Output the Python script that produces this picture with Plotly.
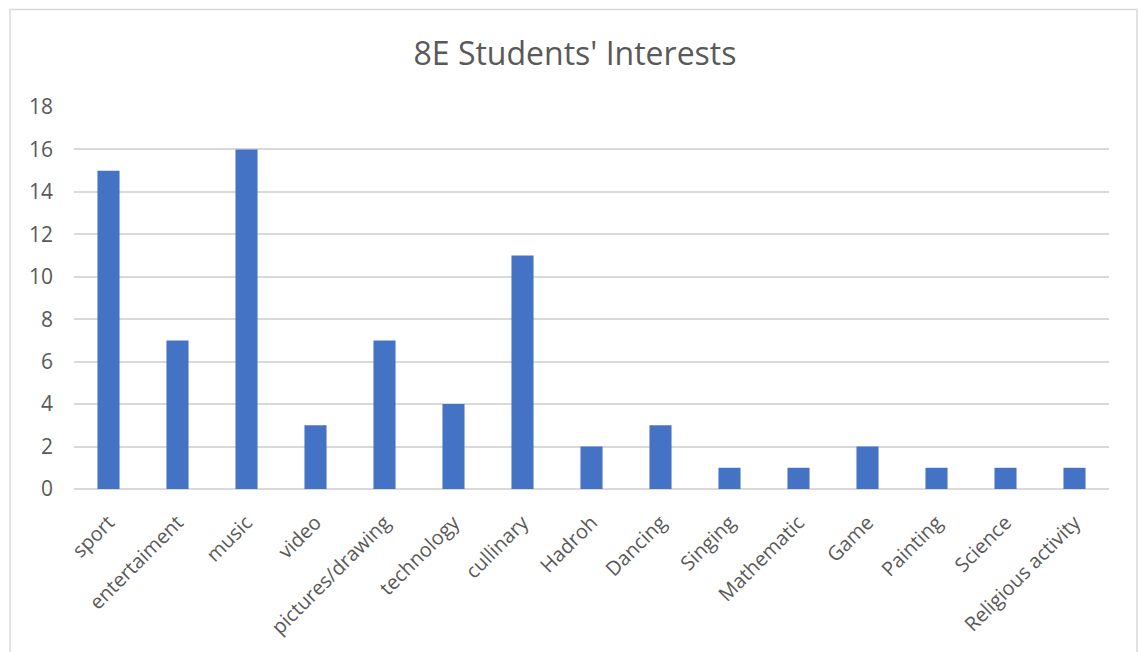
import plotly.graph_objects as go

categories = ["sport", "entertaiment", "music", "video", "pictures/drawing", "technology",
              "cullinary", "Hadroh", "Dancing", "Singing", "Mathematic", "Game",
              "Painting", "Science", "Religious activity"]
values = [15, 7, 16, 3, 7, 4, 11, 2, 3, 1, 1, 2, 1, 1, 1]
y_ticks = [0, 2, 4, 6, 8, 10, 12, 14, 16, 18]

W, H = 1139, 652
L, R, T, B = 73.5, 29.5, 107, 163
pw, ph = W - L - R, H - T - B

def px_x(x):
    return (x - L) / pw

def px_y(y):
    return (H - B - y) / ph

font_fam = "'Open Sans', sans-serif"
grey = "#595959"

fig = go.Figure(go.Bar(x=categories, y=values, marker_color="#4472C4",
                       marker_line_width=0, width=0.32))

fig.update_layout(
    width=W, height=H,
    margin=dict(l=L, r=R, t=T, b=B),
    paper_bgcolor="white", plot_bgcolor="white",
    title=dict(text="8E Students' Interests", x=px_x(575), xref="paper", xanchor="center",
               y=1 - 54 / H, yanchor="middle",
               font=dict(family=font_fam, size=32, color=grey)),
    font=dict(family=font_fam, color=grey),
    showlegend=False,
    xaxis=dict(tickangle=-45, tickfont=dict(size=20, color=grey), showgrid=False,
               showline=False, zeroline=False, ticks="", ticklabelstandoff=17),
    yaxis=dict(range=[0, 18], tickvals=y_ticks, tickfont=dict(size=21, color=grey),
               showgrid=True, gridcolor="#d9d9d9", gridwidth=1.5, zeroline=True,
               zerolinecolor="#d9d9d9", zerolinewidth=1.5, showline=False, ticks="",
               ticklabelstandoff=20),
    shapes=[dict(type="rect", xref="paper", yref="paper",
                 x0=px_x(9.5), x1=px_x(1137.5), y0=px_y(670), y1=px_y(9.5),
                 line=dict(color="#d9d9d9", width=1.5), fillcolor="rgba(0,0,0,0)",
                 layer="below")],
)

fig.write_html("out.html")
